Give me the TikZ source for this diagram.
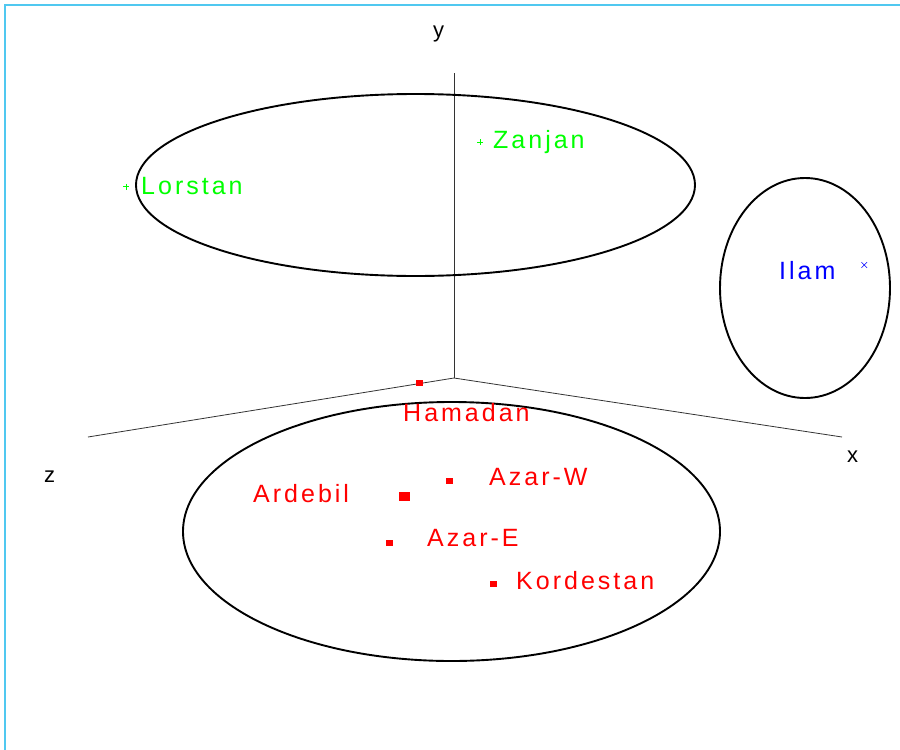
\documentclass[tikz,border=0pt]{standalone}
\usepackage{fontspec}
\setmainfont{Liberation Sans}
\newfontfamily\spacedfont[LetterSpace=12]{Liberation Sans}
\usepackage{tikz}
\definecolor{framecyan}{RGB}{80,200,240}
\definecolor{ptgreen}{RGB}{0,255,0}
\definecolor{ptblue}{RGB}{0,0,255}
\definecolor{ptred}{RGB}{255,0,0}

\begin{document}
\begin{tikzpicture}[x=1pt,y=-1pt,
	cluster/.style={line width=1.9pt},
	axisline/.style={line width=0.8pt, black!80},
	axislabel/.style={anchor=base west, inner sep=0pt, font=\fontsize{22}{26}\selectfont},
	province/.style={anchor=base west, inner sep=0pt, font=\fontsize{25}{29}\spacedfont},
	redmark/.style={fill=ptred, draw=none}]
				\useasboundingbox (0,0) rectangle (900,750);
				\draw[framecyan, line width=1.2pt] (5,750) -- (5,5) -- (900,5);
				
				\coordinate (origin) at (454,378);
				\coordinate (ytip) at (454,73);
				\coordinate (ztip) at (88,437);
				\coordinate (xtip) at (842,437);
				\draw[axisline] (origin) -- (ytip);
				\draw[axisline] (origin) -- (ztip);
				\draw[axisline] (origin) -- (xtip);
				\node[axislabel] (ylabel) at (433,37) {y};
				\node[axislabel] (zlabel) at (44,482) {z};
				\node[axislabel] (xlabel) at (847,462) {x};
				
				\draw[cluster] (415.5,185) ellipse [x radius=279.5, y radius=91];
				\draw[cluster] (805,288) ellipse [x radius=85, y radius=110];
				\draw[cluster] (451.5,531.5) ellipse [x radius=268.5, y radius=129.5];
				
				\draw[ptgreen, line width=0.6pt] (123,186.7) -- (129,186.7) (126,183.7) -- (126,189.7);
				\node[province, ptgreen] (lorstan) at (141,194) {Lorstan};
				\draw[ptgreen, line width=0.6pt] (477,142.3) -- (483,142.3) (480,139.3) -- (480,145.3);
				\node[province, ptgreen] (zanjan) at (493,148) {Zanjan};
				
				\draw[ptblue, line width=0.6pt] (861.5,262.2) -- (867.1,267.8) (861.5,267.8) -- (867.1,262.2);
				\node[province, ptblue] (ilam) at (779,279) {Ilam};
				
				\draw[redmark] (416,380) rectangle (423,386);
				\node[province, ptred] (hamadan) at (403,421) {Hamadan};
				\draw[redmark] (399,492) rectangle (410,501);
				\node[province, ptred] (ardebil) at (253,502) {Ardebil};
				\draw[redmark] (446,478) rectangle (453,484);
				\node[province, ptred] (azarw) at (489,485) {Azar-W};
				\draw[redmark] (386,540) rectangle (393,546);
				\node[province, ptred] (azare) at (427,546) {Azar-E};
				\draw[redmark] (490,581) rectangle (497,587);
				\node[province, ptred] (kordestan) at (516,589) {Kordestan};
			\end{tikzpicture}
\end{document}
